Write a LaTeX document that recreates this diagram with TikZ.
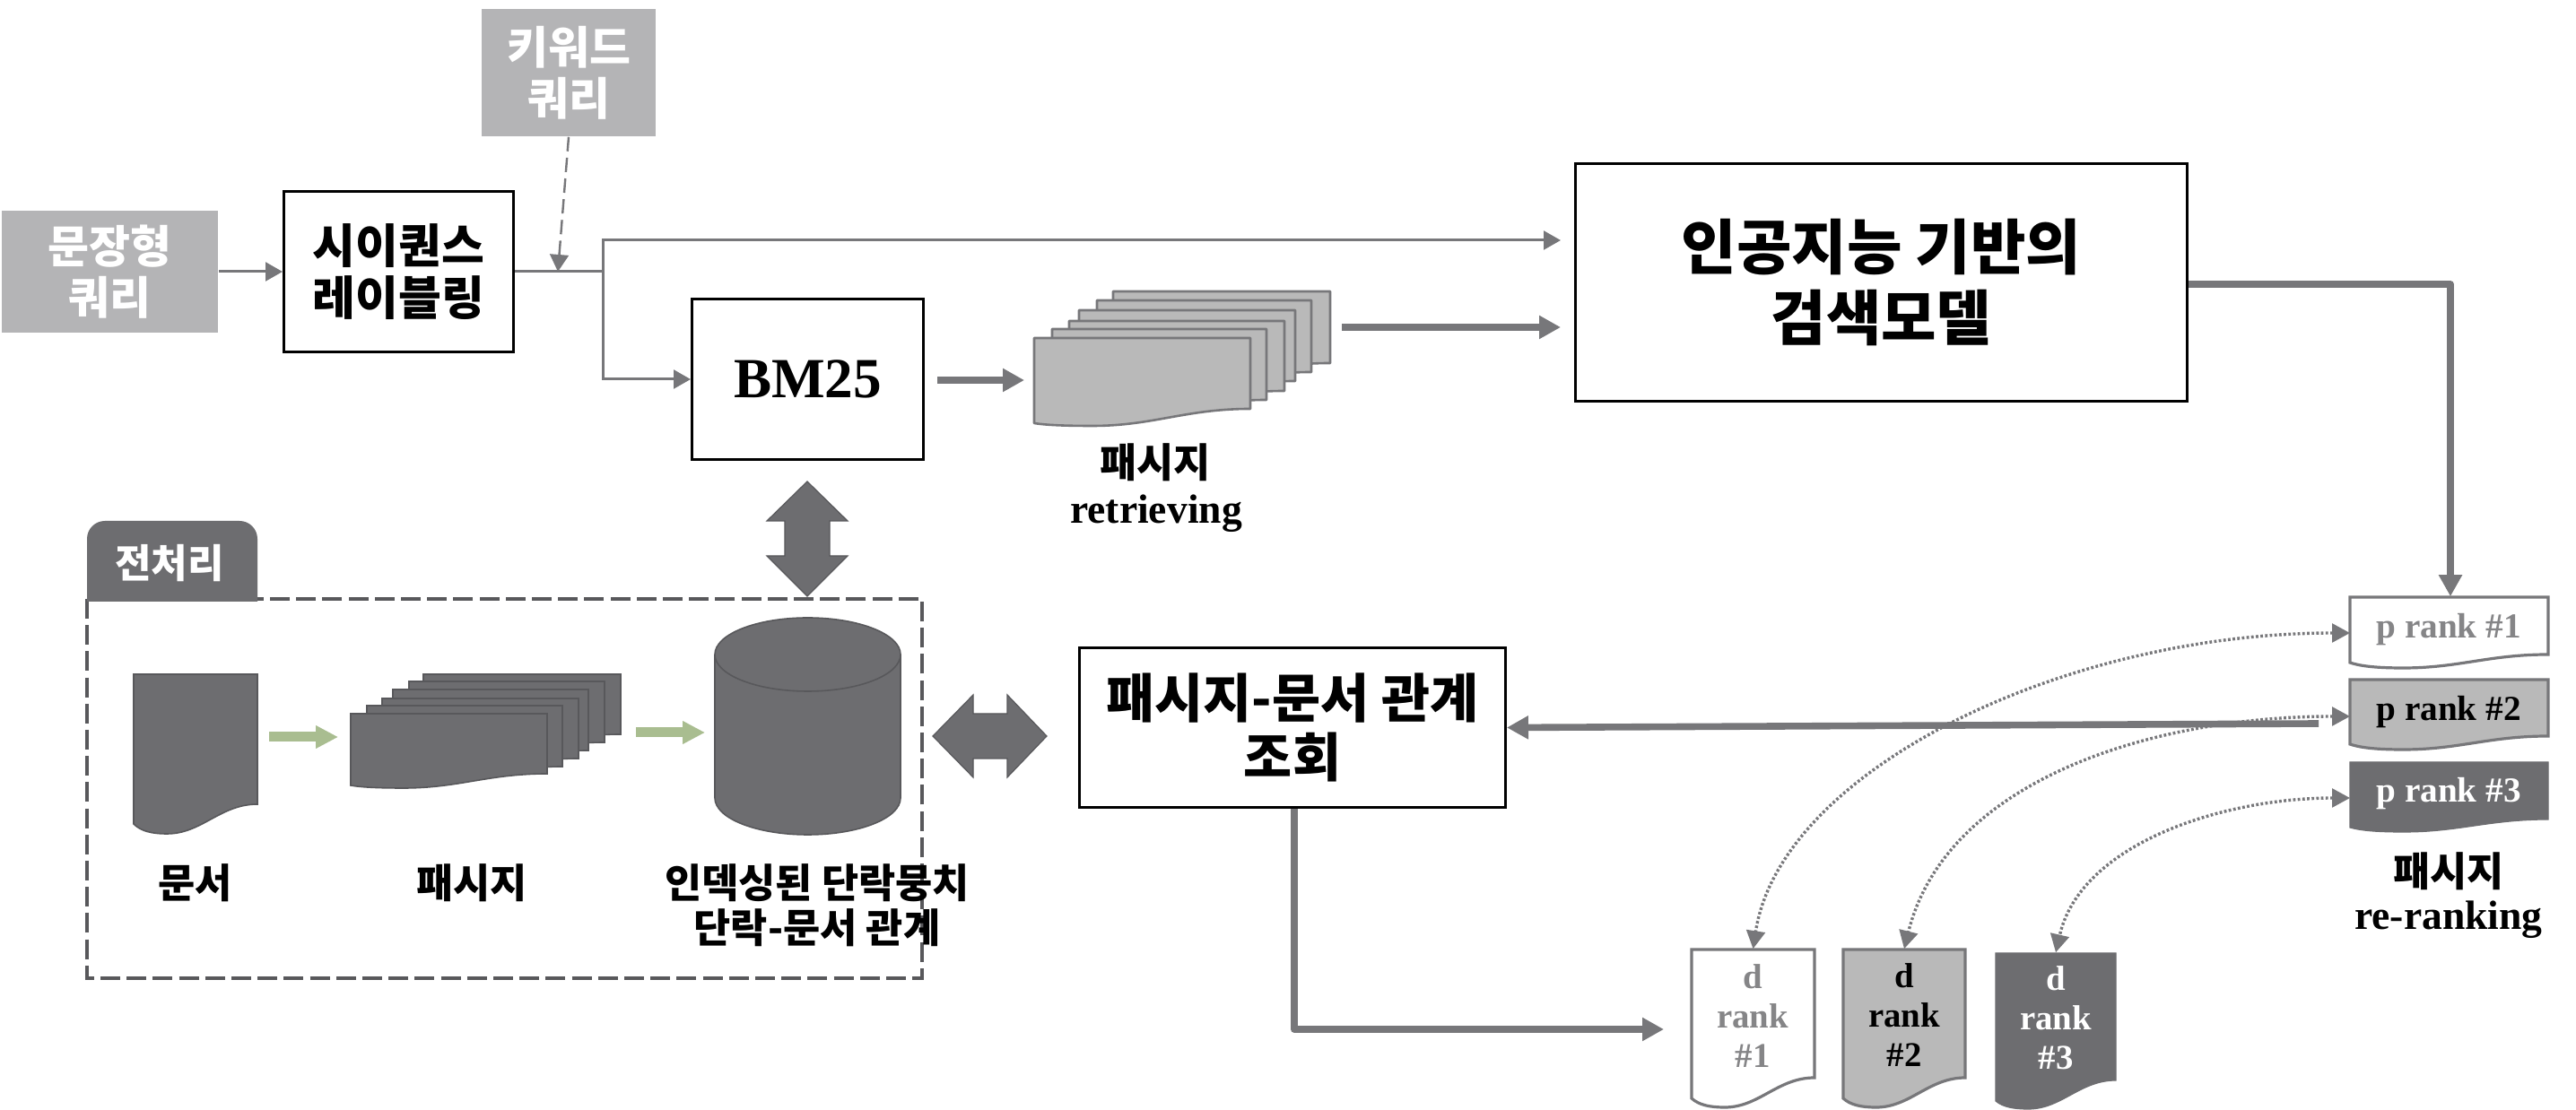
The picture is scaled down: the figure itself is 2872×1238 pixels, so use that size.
\documentclass[tikz,border=0pt]{standalone}
\usepackage{fontspec}
\setmainfont{Liberation Serif}
\newfontfamily\krfont{Noto Sans CJK KR}
\usetikzlibrary{arrows.meta}
\definecolor{lightg}{HTML}{B4B4B6}
\definecolor{darkg}{HTML}{6D6D70}
\definecolor{lineg}{HTML}{77777A}
\definecolor{edgeg}{HTML}{58585B}
\definecolor{sheetg}{HTML}{B9B9B9}
\definecolor{greenar}{HTML}{A9BD90}
\newcommand{\fsz}[2]{\fontsize{#1pt}{#2pt}\selectfont}
% name, x1, y1, x2, y right bottom, y left bottom, y trough, draw style
\newcommand{\docshape}[8]{%
  \pgfmathsetmacro{\dshw}{#4-#2}%
  \pgfmathsetmacro{\dshh}{#5-#3}%
  \pgfmathsetmacro{\dshx}{(#2+#4)/2}%
  \pgfmathsetmacro{\dshy}{(#3+#5)/2}%
  \draw[#8] (#2,#3) -- (#4,#3) -- (#4,#5)
    .. controls ({#4-0.3*\dshw},#5) and ({#2+0.55*\dshw},#7) .. ({#2+0.27*\dshw},#7)
    .. controls ({#2+0.15*\dshw},#7) and ({#2+0.06*\dshw},{#7-0.25*(#7-#6)}) .. (#2,#6) -- cycle;
  \node[inner sep=0pt,minimum width=\dshw*0.25pt,minimum height=\dshh*0.25pt] (#1) at (\dshx,\dshy) {};%
}
\tikzset{
  boxnode/.style={draw=black,fill=white,line width=0.75pt,inner sep=0pt,align=center,
     font=\krfont\bfseries},
  querybox/.style={fill=lightg,text=white,inner sep=0pt,align=center,
     font=\krfont\bfseries\fsz{12.5}{14.2}},
  thinarrow/.style={draw=lineg,line width=0.75pt,-{Triangle[length=4.75pt,width=5.2pt]}},
  thinline/.style={draw=lineg,line width=0.75pt},
  dasharrow/.style={draw=lineg,line width=0.6pt,dash pattern=on 4pt off 1.8pt,-{Triangle[length=4.75pt,width=5.2pt]}},
  thickarrow/.style={draw=lineg,line width=1.9pt,line join=round,-{Triangle[length=6pt,width=6.2pt]}},
  greenarrow/.style={draw=greenar,line width=2.75pt,-{Triangle[length=6.2pt,width=6pt]}},
  dotarrow/.style={draw=lineg,line width=0.85pt,dash pattern=on 0.7pt off 0.6pt,
     {Triangle[length=5pt,width=5.2pt]}-{Triangle[length=5pt,width=5.2pt]}},
  darkshape/.style={fill=darkg,draw=edgeg,line width=0.4pt},
  lightsheet/.style={fill=sheetg,draw=lineg,line width=0.65pt,line join=round},
  krlabel/.style={inner sep=0pt,align=center,font=\krfont\bfseries\fsz{11.2}{12.5}},
  serlabel/.style={inner sep=0pt,align=center,font=\bfseries\fsz{11.4}{13}},
  ptext/.style={inner sep=0pt,align=center,font=\bfseries\fsz{9.8}{11}},
  dtext/.style={inner sep=0pt,align=center,font=\bfseries\fsz{9.7}{11}},
}
\begin{document}
\begin{tikzpicture}[x=0.25pt,y=-0.25pt]
\path[use as bounding box,fill=white] (0,0) rectangle (2872,1238);

% input boxes
\node[querybox,minimum width=48.5pt,minimum height=35.5pt] (kw) at (634,81) {키워드\\쿼리};
\node[querybox,minimum width=60.25pt,minimum height=34pt] (query) at (122.5,303) {문장형\\쿼리};
\node[boxnode,font=\krfont\bfseries\fsz{13}{14.4},minimum width=64pt,minimum height=44.75pt] (seq) at (444.5,303) {시이퀀스\\레이블링};
\node[boxnode,font=\bfseries\fsz{15.8}{18},minimum width=64.5pt,minimum height=44.75pt] (bm) at (900.5,423) {BM25};
\node[boxnode,font=\krfont\bfseries\fsz{16.7}{19.6},minimum width=170.5pt,minimum height=66.25pt] (ai) at (2097.5,315) {인공지능 기반의\\검색모델};
\node[boxnode,font=\krfont\bfseries\fsz{14.7}{16.4},minimum width=118.75pt,minimum height=44.5pt] (rel) at (1441,811.5) {패시지-문서 관계\\조회};

% junctions and free ends
\coordinate (j1) at (622,303);
\coordinate (j2) at (672,303);
\coordinate (aiA) at (1740,268);
\coordinate (bmA) at (1045,424);
\coordinate (stA) at (1142,424);
\coordinate (stB) at (1496,365);
\coordinate (aiB) at (1740,365);

\draw[thinarrow] (query.east) -- (seq.west);
\draw[thinline] (seq.east) -- (j2);
\draw[thinarrow] (j2) |- (aiA);
\draw[thinarrow] (j2) |- (bm.west);
\draw[dasharrow] (kw.south) -- (j1);
\draw[thickarrow] (bmA) -- (stA);
\draw[thickarrow] (stB) -- (aiB);

% retrieved passage stack
\docshape{r6}{1241}{325}{1483}{405}{421}{424}{lightsheet}
\docshape{r5}{1223}{335}{1462}{415}{431}{434}{lightsheet}
\docshape{r4}{1203}{346}{1444}{425}{441}{444}{lightsheet}
\docshape{r3}{1192}{358}{1432}{436}{452}{455}{lightsheet}
\docshape{r2}{1173}{367}{1412}{446}{462}{465}{lightsheet}
\docshape{r1}{1153}{377}{1394}{456}{472}{475}{lightsheet}
\node[krlabel] (rl1) at (1288,516) {패시지};
\node[serlabel] (rl2) at (1289,573) {retrieving};

% preprocessing frame
\draw[draw=edgeg,line width=0.8pt,dash pattern=on 5.5pt off 1.8pt] (97,668) rectangle (1028,1091);
\fill[darkg] (97,671) [rounded corners=5pt] -- (97,581) -- (287,581) [sharp corners] -- (287,671) -- cycle;
\node[inner sep=0pt,text=white,font=\krfont\bfseries\fsz{11}{12}] (tab) at (189,628) {전처리};

\docshape{doc}{149}{752}{287}{897}{919}{930}{darkshape}
\docshape{s6}{472}{752}{692}{819}{835}{838}{darkshape}
\docshape{s5}{456}{760}{674}{828}{844}{847}{darkshape}
\docshape{s4}{438}{769}{656}{837}{853}{856}{darkshape}
\docshape{s3}{426}{779}{645}{846}{862}{865}{darkshape}
\docshape{s2}{409}{787}{627}{855}{871}{874}{darkshape}
\docshape{s1}{391}{796}{610}{863}{876}{879}{darkshape}

% database
\draw[darkshape] (797,730) arc[start angle=180,end angle=0,x radius=25.875pt,y radius=10.25pt]
  -- (1004,890) arc[start angle=0,end angle=-180,x radius=25.875pt,y radius=10.25pt] -- cycle;
\draw[draw=edgeg,line width=0.4pt] (797,730) arc[start angle=180,end angle=360,x radius=25.875pt,y radius=10.25pt];
\node[inner sep=0pt,minimum width=51.75pt,minimum height=60.5pt] (db) at (900.5,810) {};

\coordinate (ga1) at (300,822);
\coordinate (ga2) at (377,822);
\coordinate (gb1) at (709,817);
\coordinate (gb2) at (786,817);
\draw[greenarrow] (ga1) -- (ga2);
\draw[greenarrow] (gb1) -- (gb2);

\node[krlabel] (l1) at (218,985) {문서};
\node[krlabel] (l2) at (526,985) {패시지};
\node[krlabel] (l3) at (911,1010) {인덱싱된 단락뭉치\\단락-문서 관계};

% double arrows
\fill[darkg,draw=edgeg,line width=0.3pt] (900,537) -- (945,581) -- (925,581) -- (925,620) -- (945,620) -- (900,665) -- (855,620) -- (875,620) -- (875,581) -- (855,581) -- cycle;
\fill[darkg,draw=edgeg,line width=0.3pt] (1040,821) -- (1085,775) -- (1085,796) -- (1123,796) -- (1123,775) -- (1167,821) -- (1123,867) -- (1123,846) -- (1085,846) -- (1085,867) -- cycle;

% ranked passages
\docshape{p1}{2620}{666}{2841}{730}{739}{745}{fill=white,draw=lineg,line width=0.8pt}
\docshape{p2}{2620}{758}{2841}{821}{830}{836}{fill=sheetg,draw=lineg,line width=0.8pt}
\docshape{p3}{2620}{850}{2841}{914}{923}{928}{fill=darkg,draw=darkg,line width=0.3pt}
\node[ptext,text=lineg!90!white] (pt1) at (2730,702) {p rank \#1};
\node[ptext,text=black] (pt2) at (2730,794) {p rank \#2};
\node[ptext,text=white] (pt3) at (2730,885) {p rank \#3};
\node[krlabel] (pl1) at (2730,972) {패시지};
\node[serlabel] (pl2) at (2730,1026) {re-ranking};

% ranked documents
\docshape{d1}{1886}{1059}{2023}{1202}{1225}{1235}{fill=white,draw=lineg,line width=0.8pt}
\docshape{d2}{2055}{1059}{2191}{1202}{1225}{1235}{fill=sheetg,draw=lineg,line width=0.8pt}
\docshape{d3}{2225}{1063}{2359}{1205}{1228}{1237}{fill=darkg,draw=darkg,line width=0.3pt}
\node[dtext,text=lineg!90!white] (dt1) at (1954,1133) {d\\rank\\\#1};
\node[dtext,text=black] (dt2) at (2123,1132) {d\\rank\\\#2};
\node[dtext,text=white] (dt3) at (2292,1135) {d\\rank\\\#3};

% dotted correspondences
\coordinate (pin1) at (2620,706);
\coordinate (pin2) at (2620,799);
\coordinate (pin3) at (2620,890);
\draw[dotarrow] (pin1) .. controls (2300,706) and (1985,860) .. (d1.north);
\draw[dotarrow] (pin2) .. controls (2400,799) and (2170,870) .. (d2.north);
\draw[dotarrow] (pin3) .. controls (2480,890) and (2320,940) .. (d3.north);

% thick flows
\coordinate (p2out) at (2585,807);
\coordinate (relB) at (1443,1148);
\coordinate (d1in) at (1855,1148);
\coordinate (aiOut) at (2732,317);
\draw[thickarrow] (ai.east |- aiOut) -- (aiOut) -- (p1.north -| aiOut);
\draw[thickarrow] (p2out) -- (rel.east);
\draw[thickarrow] (rel.south -| relB) -- (relB) -- (d1in);
\end{tikzpicture}
\end{document}
